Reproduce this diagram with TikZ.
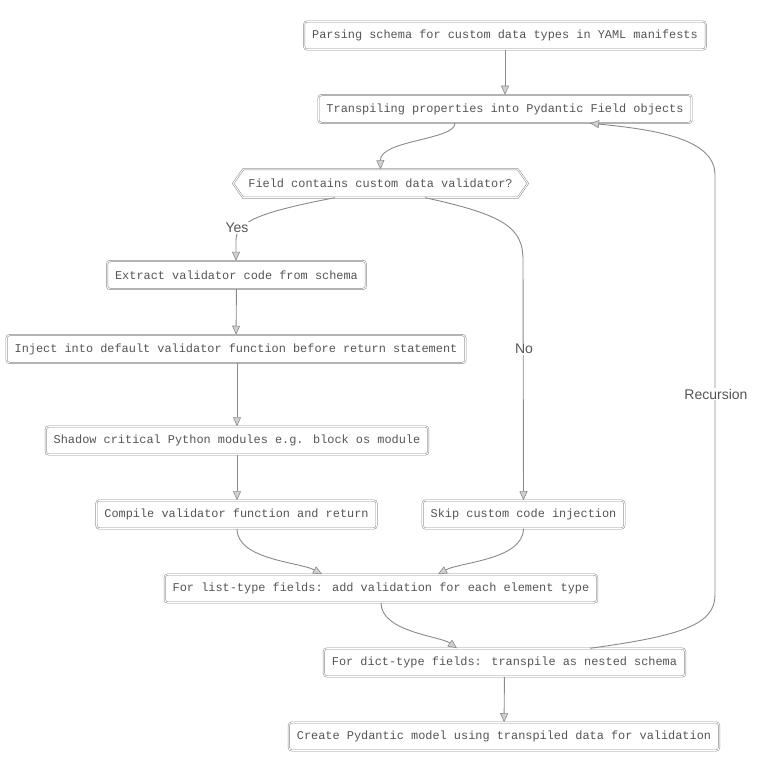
\documentclass[tikz,border=0pt]{standalone}
\usepackage{fontspec}
\setmainfont{Liberation Sans}
\newfontfamily\monofont{Liberation Mono}
\usetikzlibrary{arrows.meta}
\definecolor{lc}{HTML}{8A8A8A}
\definecolor{tc}{HTML}{555555}
\tikzset{
  box/.style={draw=lc, double=white, double distance=0.9pt, line width=0.5pt, rounded corners=3pt,
    font=\monofont\fontsize{11.9}{13}\selectfont, text=tc, minimum height=28pt, inner xsep=8pt, inner ysep=0pt},
  hexnode/.style={font=\monofont\fontsize{11.9}{13}\selectfont, text=tc, minimum height=28pt, inner xsep=15pt, inner ysep=0pt},
  hexline/.style={draw=lc, double=white, double distance=0.9pt, line width=0.5pt},
  conn/.style={draw=lc, line width=0.9pt, -{Triangle[length=9pt,width=8pt,fill=lc!40,color=lc,line width=0.6pt]}},
  elabel/.style={font=\fontsize{14}{16}\selectfont, text=tc, fill=white, inner sep=1pt}
}
\begin{document}
\begin{tikzpicture}[x=1pt,y=-1pt]
\useasboundingbox (0,0) rectangle (757,767);
\node[box] (n1) at (505,35.5) {Parsing schema for custom data types in YAML manifests};
\node[box] (n2) at (505,109) {Transpiling properties into Pydantic Field objects};
\node[hexnode] (d) at (380.5,183.5) {Field contains custom data validator?};
\draw[hexline] (d.west) -- ([xshift=10pt]d.north west) -- ([xshift=-10pt]d.north east) -- (d.east) -- ([xshift=-10pt]d.south east) -- ([xshift=10pt]d.south west) -- cycle;
\node[box] (e) at (236.5,275) {Extract validator code from schema};
\node[box] (i) at (236,349) {Inject into default validator function before return statement};
\node[box] (s) at (237,440.5) {Shadow critical Python modules e.g. block os module};
\node[box] (c) at (236.5,514.5) {Compile validator function and return};
\node[box] (k) at (523.5,514.5) {Skip custom code injection};
\node[box] (l) at (381,588.5) {For list-type fields: add validation for each element type};
\node[box] (dt) at (504.5,662.5) {For dict-type fields: transpile as nested schema};
\node[box] (m) at (504,736.5) {Create Pydantic model using transpiled data for validation};

\draw[conn] (n1) -- (n2);
\draw[conn] (n2.south -| 455,0) .. controls (455,140) and (380,140) .. (d.north);
\draw[conn] (d.south -| 335,0) .. controls (260,212) and (236,222) .. (236,240) -- (e.north -| 236,0);
\node[elabel] at (237,228) {Yes};
\draw[conn] (d.south -| 425,0) .. controls (505,215) and (523,228) .. (523,260) -- (k.north);
\node[elabel] at (524,349) {No};
\draw[conn] (e) -- (i);
\draw[conn] (i.south -| 237,0) -- (s.north -| 237,0);
\draw[conn] (s.south -| 237,0) -- (c.north -| 237,0);
\draw[conn] (c.south -| 237,0) .. controls (237,560) and (300,562) .. (l.north -| 322,0);
\draw[conn] (k.south) .. controls (523,560) and (460,562) .. (l.north -| 438,0);
\draw[conn] (l.south) .. controls (381,632) and (440,636) .. (dt.north -| 457,0);
\draw[conn] (dt.north -| 590,0) .. controls (680,636) and (715,625) .. (715,595) -- (715,175) .. controls (715,140) and (660,130) .. (n2.south -| 590,0);
\node[elabel] at (716,394) {Recursion};
\draw[conn] (dt) -- (m);
\end{tikzpicture}
\end{document}
